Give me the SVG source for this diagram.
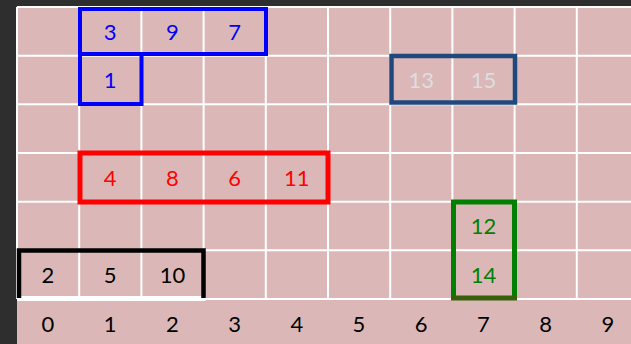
<svg xmlns="http://www.w3.org/2000/svg" width="631" height="344" viewBox="0 0 631 344">
<style>
.g{stroke:#ffffff;stroke-width:2;fill:none}
text{font-family:Lato,"Liberation Sans",sans-serif;font-size:22px;text-anchor:middle}
.bl{fill:#0000ff}.rd{fill:#ff0000}.gr{fill:#008000}.bk{fill:#000000}.lg{fill:#dedede}
.box{fill:none}
</style>
<rect x="0" y="0" width="631" height="344" fill="#2e2e2e"/>
<rect x="17" y="7" width="614" height="337" fill="#dbb8b7"/>
<g id="grid">
<path class="g" d="M17 7V299M79.2 7V299M141.4 7V299M203.6 7V299M265.8 7V299M328 7V299M390.2 7V299M452.4 7V299M514.6 7V299M576.8 7V299"/>
<path class="g" d="M17 7H631M17 55.7H631M17 104.3H631M17 153H631M17 201.7H631M17 250.3H631M17 299H631"/>
</g>
<g id="axis">
<text class="bk" x="48" y="331.5">0</text>
<text class="bk" x="110.2" y="331.5">1</text>
<text class="bk" x="172.4" y="331.5">2</text>
<text class="bk" x="234.6" y="331.5">3</text>
<text class="bk" x="296.8" y="331.5">4</text>
<text class="bk" x="359" y="331.5">5</text>
<text class="bk" x="421.2" y="331.5">6</text>
<text class="bk" x="483.4" y="331.5">7</text>
<text class="bk" x="545.6" y="331.5">8</text>
<text class="bk" x="607.8" y="331.5">9</text>
</g>
<g id="blue-top">
<rect class="box" x="80" y="9" width="186" height="45" stroke="#0000ff" stroke-width="4"/>
<text class="bl" x="110.2" y="40">3</text>
<text class="bl" x="172.4" y="40">9</text>
<text class="bl" x="234.6" y="40">7</text>
</g>
<g id="blue-one">
<rect class="box" x="80" y="54" width="61.5" height="50" stroke="#0000ff" stroke-width="4"/>
<text class="bl" x="110.2" y="88">1</text>
</g>
<g id="navy">
<rect class="box" x="391.5" y="56" width="123.5" height="46.5" stroke="#1f497d" stroke-width="4.5"/>
<text class="lg" x="421.2" y="88">13</text>
<text class="lg" x="483.4" y="88">15</text>
</g>
<g id="red">
<rect class="box" x="80" y="153" width="248" height="49" stroke="#ff0000" stroke-width="5"/>
<text class="rd" x="110.2" y="185.5">4</text>
<text class="rd" x="172.4" y="185.5">8</text>
<text class="rd" x="234.6" y="185.5">6</text>
<text class="rd" x="296.8" y="185.5">11</text>
</g>
<g id="green">
<path d="M453.5 297V202H514.5V297" fill="none" stroke="#008000" stroke-width="5"/>
<path d="M451 298H517" fill="none" stroke="#385f0a" stroke-width="5"/>
<text class="gr" x="483.4" y="234">12</text>
<text class="gr" x="483.4" y="283">14</text>
</g>
<g id="black">
<path d="M17 298.5H205.5" fill="none" stroke="#ffffff" stroke-width="5"/>
<path d="M19 298V250.5H203.5V298" fill="none" stroke="#000000" stroke-width="4.5"/>
<text class="bk" x="48" y="283">2</text>
<text class="bk" x="110.2" y="283">5</text>
<text class="bk" x="172.4" y="283">10</text>
</g>
</svg>
